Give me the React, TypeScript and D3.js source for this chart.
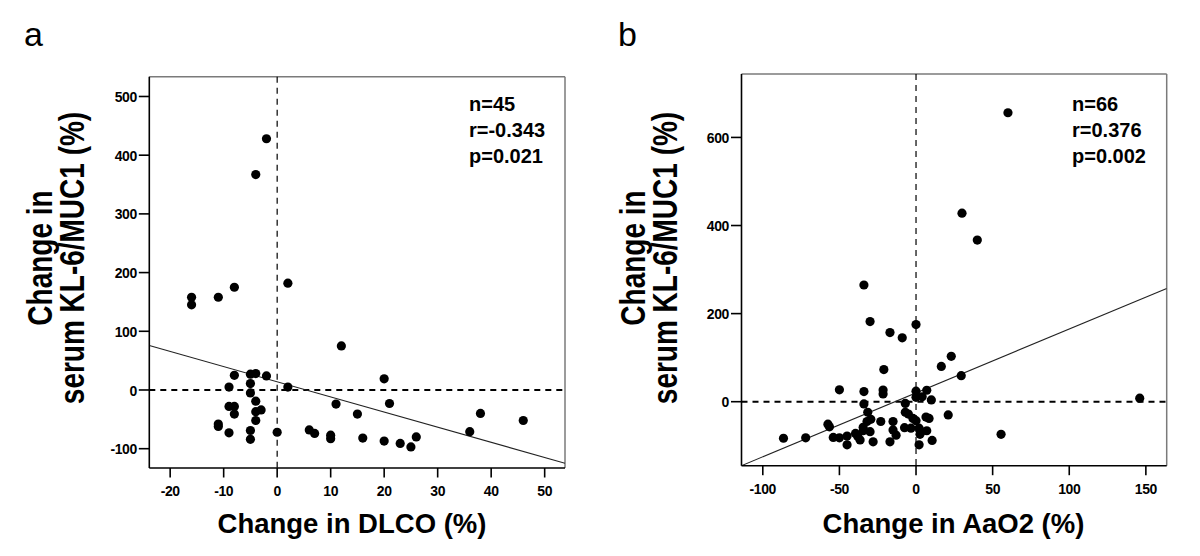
import React from "react";
import * as d3 from "d3";

// ---------- Panel a data (Change in DLCO vs change in KL-6/MUC1) ----------
const dlcoChange = [
  -16, -16, -11, -8, -4, -2, 2, 12, -8, -5,
  -4, -2, -9, -5, -5, 2, -4, -9, -8, -8,
  -4, -3, -4, -11, -11, -9, -5, -5, 0, 6,
  7, 10, 10, 11, 15, 16, 20, 20, 21, 23,
  25, 26, 36, 38, 46,
];
const kl6ChangeA = [
  158, 145, 158, 175, 367, 428, 182, 75, 25, 27,
  28, 24, 5, 11, -5, 5, -19, -28, -28, -41,
  -37, -34, -52, -58, -62, -73, -69, -84, -72, -68,
  -74, -77, -83, -24, -41, -82, 19, -87, -23, -91,
  -97, -80, -71, -40, -52,
];
const xTicksA = [-20, -10, 0, 10, 20, 30, 40, 50];
const yTicksA = [-100, 0, 100, 200, 300, 400, 500];
const fitA = [14, -2.58]; // intercept, slope
const statsA = ["n=45", "r=-0.343", "p=0.021"];

// ---------- Panel b data (Change in AaO2 vs change in KL-6/MUC1) ----------
const aao2Change = [
  30, 40, -34, -30, -17, -9, 0, 23, 16.5, -21,
  29.5, -50, -34, -21.5, -21.5, 0, 0, 7, 4, 10,
  -34, -7, -31.5, -7, -5, -2, 0, -29.5, -32, -23,
  -15, 6.5, 8.5, 21, -57.5, -56.5, -34.5, -34.5, -30, -39.5,
  -38, -36.5, -45, -45, -54, -50, -28, -17, -15, -13,
  -7.5, -3.3, 2, 3.3, 7, 2.6, 2, 10.5, -86.5, -72,
  60, 55.5, 146,
];
const kl6ChangeB = [
  428, 367, 265, 182, 157, 145, 175, 103, 80, 73,
  59, 27, 23, 26.5, 17.5, 24, 10, 26, 11, 4,
  -5, -4, -24, -24, -28, -38, -43, -40, -45, -45,
  -45, -35, -38, -30, -51, -57, -58, -66, -68, -72,
  -79, -87, -78, -98, -81, -82, -91, -91, -64, -76,
  -59, -60, -60, -68, -66, -74, -98, -88, -83, -82,
  656, -74, 8,
];
const xTicksB = [-100, -50, 0, 50, 100, 150];
const yTicksB = [0, 200, 400, 600];
const fitB = [20, 1.45];
const statsB = ["n=66", "r=0.376", "p=0.002"];

const yTitle1 = "Change in";
const yTitle2 = "serum KL-6/MUC1 (%)";

const FONT = "'Liberation Sans', Arial, Helvetica, sans-serif";

type PanelProps = {
  letter: string;
  letterX: number;
  box: { left: number; right: number; top: number; bottom: number };
  xDomain: [number, number];
  yDomain: [number, number];
  xs: number[];
  ys: number[];
  xTicks: number[];
  yTicks: number[];
  fit: number[];
  stats: string[];
  statsX: number;
  xTitle: string;
  titleX: number;
};

function Panel(p: PanelProps) {
  const { box } = p;
  const x = d3.scaleLinear().domain(p.xDomain).range([box.left, box.right]);
  const y = d3.scaleLinear().domain(p.yDomain).range([box.bottom, box.top]);
  const [b0, b1] = p.fit;
  const fitLine = d3.line<number>()
    .x((d) => x(d))
    .y((d) => y(b0 + b1 * d));
  const clipId = "clip-" + p.letter;
  const yTitleCenter = 258;
  const stretch = 1.28;
  return (
    <g>
      <defs>
        <clipPath id={clipId}>
          <rect x={box.left} y={box.top} width={box.right - box.left} height={box.bottom - box.top} />
        </clipPath>
      </defs>
      <text x={p.letterX} y={46} fontFamily={FONT} fontSize={34} fill="#000">{p.letter}</text>
      {/* frame top/right (grey) */}
      <line x1={box.left} x2={box.right} y1={box.top} y2={box.top} stroke="#7a7a7a" strokeWidth={1.5} />
      <line x1={box.right} x2={box.right} y1={box.top} y2={box.bottom} stroke="#7a7a7a" strokeWidth={1.5} />
      {/* reference lines */}
      <line x1={box.left} x2={box.right} y1={y(0)} y2={y(0)} stroke="#000" strokeWidth={2} strokeDasharray="6,5" />
      <line x1={x(0)} x2={x(0)} y1={box.top} y2={box.bottom} stroke="#000" strokeWidth={1.2} strokeDasharray="6,5" />
      {/* regression line */}
      <path d={fitLine(p.xDomain) || ""} fill="none" stroke="#222" strokeWidth={1.1} clipPath={`url(#${clipId})`} />
      {/* points */}
      {p.xs.map((xv, i) => (
        <circle key={i} cx={x(xv)} cy={y(p.ys[i])} r={4.6} fill="#000" />
      ))}
      {/* axes */}
      <line x1={box.left} x2={box.left} y1={box.top} y2={box.bottom} stroke="#000" strokeWidth={1.6} />
      <line x1={box.left} x2={box.right} y1={box.bottom} y2={box.bottom} stroke="#000" strokeWidth={1.6} />
      {p.yTicks.map((t) => (
        <g key={"y" + t}>
          <line x1={box.left - 10.5} x2={box.left} y1={y(t)} y2={y(t)} stroke="#000" strokeWidth={1.6} />
          <g transform={`translate(${box.left - 12.5},${y(t)}) scale(1,1.1)`}>
            <text x={0} y={0} dy="0.36em" textAnchor="end" fontFamily={FONT} fontWeight="bold" fontSize={14} letterSpacing={-0.4} fill="#000">{t}</text>
          </g>
        </g>
      ))}
      {p.xTicks.map((t) => (
        <g key={"x" + t}>
          <line x1={x(t)} x2={x(t)} y1={box.bottom} y2={box.bottom + 9.5} stroke="#000" strokeWidth={1.6} />
          <g transform={`translate(${x(t)},${box.bottom + 28}) scale(1,1.1)`}>
            <text x={0} y={0} textAnchor="middle" fontFamily={FONT} fontWeight="bold" fontSize={14} letterSpacing={-0.4} fill="#000">{t}</text>
          </g>
        </g>
      ))}
      {/* stats */}
      {p.stats.map((s, i) => (
        <text key={s} x={p.statsX} y={111 + i * 26} fontFamily={FONT} fontWeight="bold" fontSize={20} fill="#000">{s}</text>
      ))}
      {/* titles */}
      <text x={p.titleX} y={533} textAnchor="middle" fontFamily={FONT} fontWeight="bold" fontSize={27.5} fill="#000">{p.xTitle}</text>
      <g transform={`translate(${box.left - 97},${yTitleCenter}) rotate(-90) scale(1,${stretch})`}>
        <text x={0} y={0} textAnchor="middle" fontFamily={FONT} fontWeight="bold" fontSize={28} fill="#000">{yTitle1}</text>
        <text x={0} y={32 / stretch} textAnchor="middle" fontFamily={FONT} fontWeight="bold" fontSize={28} fill="#000">{yTitle2}</text>
      </g>
    </g>
  );
}

export default function App() {
  return (
    <svg
      width={1200}
      height={556}
      viewBox="0 0 1200 556"
      style={{ position: "absolute", left: 0, top: 0, background: "#fff" }}
    >
      <rect x={0} y={0} width={1200} height={556} fill="#fff" />
      <Panel
        letter="a"
        letterX={24}
        box={{ left: 149.3, right: 565, top: 76.7, bottom: 468 }}
        xDomain={[-23.9, 53.8]}
        yDomain={[-132.9, 533.7]}
        xs={dlcoChange}
        ys={kl6ChangeA}
        xTicks={xTicksA}
        yTicks={yTicksA}
        fit={fitA}
        stats={statsA}
        statsX={469}
        xTitle="Change in DLCO (%)"
        titleX={352}
      />
      <Panel
        letter="b"
        letterX={618}
        box={{ left: 741.5, right: 1166.7, top: 74, bottom: 465.7 }}
        xDomain={[-113.9, 163.6]}
        yDomain={[-145.3, 744]}
        xs={aao2Change}
        ys={kl6ChangeB}
        xTicks={xTicksB}
        yTicks={yTicksB}
        fit={fitB}
        stats={statsB}
        statsX={1072}
        xTitle="Change in AaO2 (%)"
        titleX={953.5}
      />
    </svg>
  );
}
